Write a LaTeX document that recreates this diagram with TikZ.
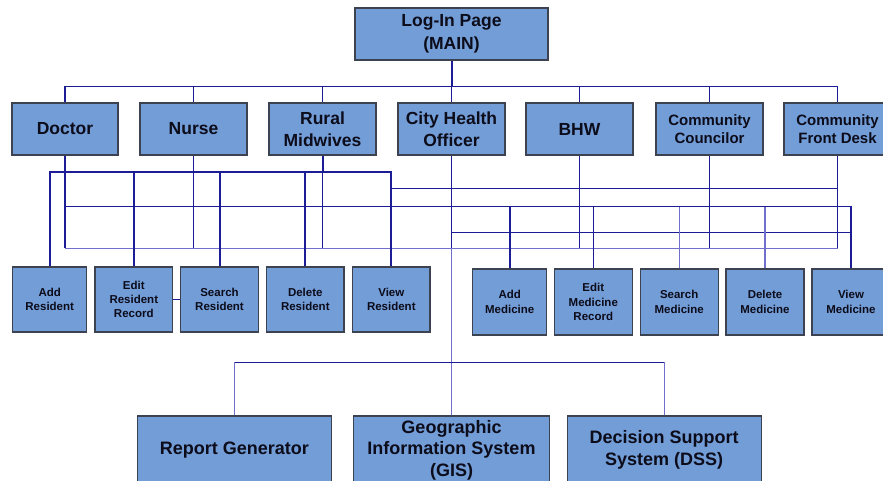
\documentclass[tikz,border=0pt]{standalone}
\usepackage{fontspec}
\setmainfont{Liberation Sans}
\definecolor{boxfill}{RGB}{115,157,215}
\definecolor{boxline}{RGB}{60,66,80}
\definecolor{navy}{RGB}{28,28,150}
\definecolor{violet}{RGB}{112,112,204}
\definecolor{txt}{RGB}{12,12,26}
\tikzset{
  box/.style={draw=boxline, fill=boxfill, line width=1.2pt, inner sep=1pt, align=center, text=txt, font=\bfseries},
  rolebig/.style={box, minimum height=52pt, font=\bfseries\fontsize{17.5}{21.7}\selectfont},
  rolesmall/.style={box, minimum height=52pt, font=\bfseries\fontsize{15}{18}\selectfont},
  task/.style={box, font=\bfseries\fontsize{11.5}{14.3}\selectfont},
  module/.style={box, minimum height=68pt, minimum width=195pt, font=\bfseries\fontsize{18}{21.4}\selectfont},
  conn/.style={draw=navy, line width=1.1pt},
  connthick/.style={draw=navy, line width=2pt},
  connlight/.style={draw=violet, line width=1.1pt},
}
\begin{document}
\begin{tikzpicture}[x=1pt,y=-1pt]
\useasboundingbox (0,0) rectangle (883,480);
% top
\node[rolebig, minimum width=193pt, font=\bfseries\fontsize{17.5}{22.7}\selectfont] (login) at (451.5,34) {Log-In Page\\(MAIN)};
% roles
\node[rolebig, minimum width=106pt] (doctor)  at (65,129)    {Doctor};
\node[rolebig, minimum width=107pt] (nurse)   at (193.5,129) {Nurse};
\node[rolebig, minimum width=107pt] (rural)   at (322.5,129) {Rural\\Midwives};
\node[rolebig, minimum width=107pt] (cho)     at (451.5,129) {City Health\\Officer};
\node[rolebig, minimum width=107pt] (bhw)     at (579.5,129) {BHW};
\node[rolesmall, minimum width=107pt] (council) at (709.5,129) {Community\\Councilor};
\node[rolesmall, minimum width=107pt] (cfd)     at (837.5,129) {Community\\Front Desk};
% resident tasks
\node[task, minimum width=74pt, minimum height=65pt]   (addR)    at (49.7,299.5)  {Add\\Resident};
\node[task, minimum width=77.7pt, minimum height=65pt] (editR)   at (133.8,299.5) {Edit\\Resident\\Record};
\node[task, minimum width=77.6pt, minimum height=65pt] (searchR) at (219.5,299.5) {Search\\Resident};
\node[task, minimum width=77.3pt, minimum height=65pt] (deleteR) at (305.3,299.5) {Delete\\Resident};
\node[task, minimum width=77.3pt, minimum height=65pt] (viewR)   at (391.3,299.5) {View\\Resident};
% medicine tasks
\node[task, minimum width=74pt, minimum height=66pt] (addM)    at (509.7,302) {Add\\Medicine};
\node[task, minimum width=78pt, minimum height=66pt] (editM)   at (593.3,302) {Edit\\Medicine\\Record};
\node[task, minimum width=78pt, minimum height=66pt] (searchM) at (679.2,302) {Search\\Medicine};
\node[task, minimum width=78pt, minimum height=66pt] (deleteM) at (765,302)   {Delete\\Medicine};
\node[task, minimum width=78pt, minimum height=66pt] (viewM)   at (851,302)   {View\\Medicine};
% modules
\node[module, minimum width=194.4pt] (report) at (234.5,450) {Report Generator};
\node[module, minimum width=196pt]   (gis)    at (451.5,450) {Geographic\\Information System\\(GIS)};
\node[module, minimum width=194pt]   (dss)    at (664.2,450) {Decision Support\\System (DSS)};
% bus levels
\coordinate (yTop) at (0,86.7);
\coordinate (yR) at (0,171.7);
\coordinate (yV) at (0,188.3);
\coordinate (yM) at (0,206.7);
\coordinate (yC) at (0,232.7);
\coordinate (yL) at (0,248.3);
\coordinate (yB) at (0,362.3);
% login to roles
\draw[connthick] (login.south) -- (login.south |- yTop);
\draw[conn] (doctor.north) -- (doctor.north |- yTop) -- (cfd.north |- yTop) -- (cfd.north);
\foreach \n in {nurse,rural,cho,bhw,council} \draw[conn] (\n.north) -- (\n.north |- yTop);
% role drops
\draw[connlight] (doctor.south |- yL) -- (cfd.south |- yL);
\draw[conn] (doctor.south) -- (doctor.south |- yL);
\draw[conn] (nurse.south) -- (nurse.south |- yL);
\draw[connthick] (rural.south) -- (rural.south |- yR);
\draw[conn] (rural.south |- yR) -- (rural.south |- yL);
\draw[conn] (bhw.south) -- (bhw.south |- yL);
\draw[conn] (council.south) -- (council.south |- yL);
\draw[conn] (cfd.south) -- (cfd.south |- yL);
\draw[conn] (cho.south) -- (cho.south |- yL);
\draw[connlight] (cho.south |- yL) -- (gis.north);
% resident bus
\draw[connthick] (addR.north) -- (addR.north |- yR) -- (viewR.north |- yR) -- (viewR.north);
\foreach \n in {editR,searchR,deleteR} \draw[connthick] (\n.north) -- (\n.north |- yR);
\draw[conn] (viewR.north |- yV) -- (cfd.south |- yV);
\draw[conn] (editR.east) -- (searchR.west);
% medicine bus
\draw[conn] (doctor.south |- yM) -- (viewM.north |- yM) -- (viewM.north |- yC);
\draw[connthick] (viewM.north |- yC) -- (viewM.north);
\draw[conn] (cho.south |- yC) -- (viewM.north |- yC);
\draw[connthick] (addM.north) -- (addM.north |- yM);
\draw[conn] (editM.north) -- (editM.north |- yM);
\draw[connlight] (searchM.north) -- (searchM.north |- yM);
\draw[connlight] (deleteM.north) -- (deleteM.north |- yM);
% module bus
\draw[conn] (report.north |- yB) -- (dss.north |- yB);
\draw[connlight] (report.north) -- (report.north |- yB);
\draw[connlight] (dss.north) -- (dss.north |- yB);
\end{tikzpicture}
\end{document}
